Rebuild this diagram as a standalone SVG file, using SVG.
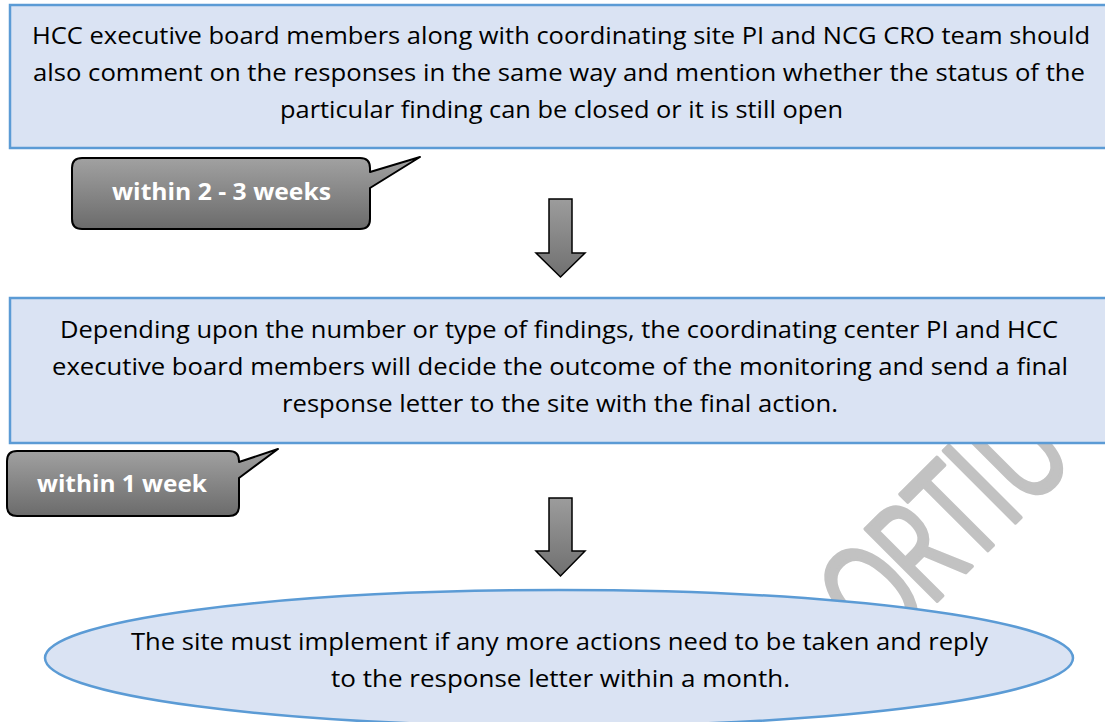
<svg xmlns="http://www.w3.org/2000/svg" width="1105" height="722" viewBox="0 0 1105 722">
  <defs>
    <linearGradient id="calloutFill" x1="0" y1="0" x2="0" y2="1">
      <stop offset="0" stop-color="#a2a2a2"/>
      <stop offset="1" stop-color="#6b6b6b"/>
    </linearGradient>
    <linearGradient id="arrowFill" x1="0" y1="0" x2="0" y2="1">
      <stop offset="0" stop-color="#9c9c9c"/>
      <stop offset="1" stop-color="#707070"/>
    </linearGradient>
    <style>
      .box { fill: #dae3f3; stroke: #5b9bd5; stroke-width: 2.5; }
      .body { font-family: "Open Sans", "Liberation Sans", sans-serif; font-size: 24px; fill: #000; text-anchor: middle; }
      .callout { fill: url(#calloutFill); stroke: #000; stroke-width: 2; stroke-linejoin: round; }
      .tag { font-family: "Open Sans", "Liberation Sans", sans-serif; font-size: 23px; font-weight: bold; fill: #fff; text-anchor: middle; }
      .arrow { fill: url(#arrowFill); stroke: #000; stroke-width: 1.5; stroke-linejoin: miter; }
      .mark { font-family: "Open Sans", "Liberation Sans", sans-serif; font-size: 142px; fill: #c2c2c2; stroke: #c2c2c2; stroke-width: 3.5; stroke-linejoin: round; stroke-linecap: round; text-anchor: middle; }
    </style>
  </defs>

  <rect width="1105" height="722" fill="#fff"/>

  <!-- background watermark, partly covered by the shapes -->
  <g id="watermark" transform="translate(769,769) rotate(-45) scale(0.7,1)">
    <text class="mark" vector-effect="non-scaling-stroke" x="279 369 447 503 574" y="0">ORTIU</text>
  </g>

  <g id="node-review">
    <rect class="box" x="10" y="5" width="1105" height="143"/>
    <text class="body" x="561" y="44" textLength="1058" lengthAdjust="spacingAndGlyphs">HCC executive board members along with coordinating site PI and NCG CRO team should</text>
    <text class="body" x="559" y="81" textLength="1052" lengthAdjust="spacingAndGlyphs">also comment on the responses in the same way and mention whether the status of the</text>
    <text class="body" x="561.5" y="118" textLength="563" lengthAdjust="spacingAndGlyphs">particular finding can be closed or it is still open</text>
  </g>

  <g id="node-timing-1">
    <path class="callout" d="M82,158 H360 Q370,158 370,168 V172 L420,157 L370,188 V219 Q370,229 360,229 H82 Q72,229 72,219 V168 Q72,158 82,158 Z"/>
    <text class="tag" x="221.5" y="200" textLength="219" lengthAdjust="spacingAndGlyphs">within 2 - 3 weeks</text>
  </g>

  <g id="node-decision">
    <rect class="box" x="10" y="298" width="1105" height="145"/>
    <text class="body" x="559" y="338" textLength="998" lengthAdjust="spacingAndGlyphs">Depending upon the number or type of findings, the coordinating center PI and HCC</text>
    <text class="body" x="560" y="375" textLength="1016" lengthAdjust="spacingAndGlyphs">executive board members will decide the outcome of the monitoring and send a final</text>
    <text class="body" x="560" y="412" textLength="556" lengthAdjust="spacingAndGlyphs">response letter to the site with the final action.</text>
  </g>

  <g id="node-timing-2">
    <path class="callout" d="M17,451 H229 Q239,451 239,461 V462 L278,449 L239,478 V506 Q239,516 229,516 H17 Q7,516 7,506 V461 Q7,451 17,451 Z"/>
    <text class="tag" x="122" y="492" textLength="170" lengthAdjust="spacingAndGlyphs">within 1 week</text>
  </g>

  <g id="node-site-action">
    <ellipse class="box" cx="559" cy="658" rx="514" ry="68"/>
    <text class="body" x="559.5" y="650" textLength="857" lengthAdjust="spacingAndGlyphs">The site must implement if any more actions need to be taken and reply</text>
    <text class="body" x="560.5" y="687" textLength="459" lengthAdjust="spacingAndGlyphs">to the response letter within a month.</text>
  </g>

  <g id="connectors">
    <polygon class="arrow" points="549,199 572,199 572,253 585,253 560.5,277 536,253 549,253"/>
    <polygon class="arrow" points="549,498 572,498 572,551 585,551 560.5,576 536,551 549,551"/>
  </g>
</svg>
